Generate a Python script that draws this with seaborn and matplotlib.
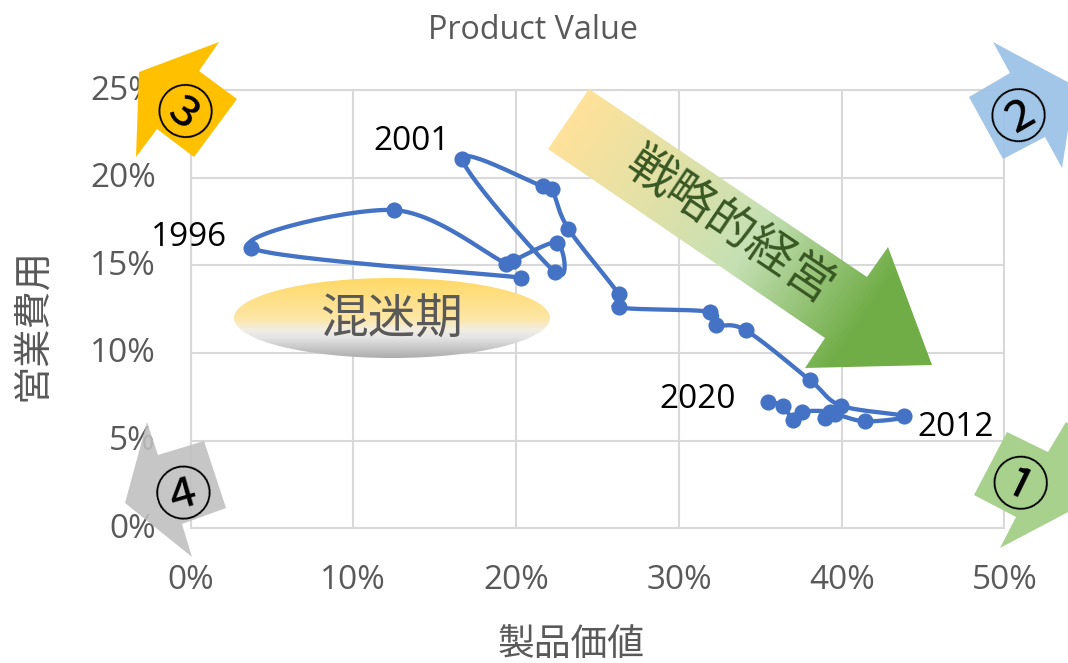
import numpy as np
import pandas as pd
import seaborn as sns
import matplotlib
matplotlib.use("Agg")
import matplotlib.pyplot as plt
from matplotlib.colors import LinearSegmentedColormap
from matplotlib.patches import Polygon, Ellipse
from matplotlib.transforms import ScaledTranslation

# Yearly path: product value (%) against operating cost (%)
product_value = [20.3, 3.7, 12.5, 19.4, 19.8, 22.5, 22.4, 16.7, 21.65, 22.2, 23.2, 26.3, 26.3, 31.9,
                 32.25, 34.1, 38.05, 39.95, 43.8, 41.45, 39.6, 39.0, 39.3, 37.55, 37.0, 36.4, 35.45]
operating_cost = [14.3, 16.0, 18.15, 15.1, 15.25, 16.3, 14.6, 21.05, 19.5, 19.35, 17.1, 13.35, 12.6, 12.35,
                  11.6, 11.3, 8.45, 7.0, 6.4, 6.1, 6.5, 6.3, 6.65, 6.65, 6.2, 7.0, 7.2]
x_ticks = [0, 10, 20, 30, 40, 50]
y_ticks = [0, 5, 10, 15, 20, 25]
year_labels = ["1996", "2001", "2020", "2012"]
TITLE = "Product Value"
X_LABEL = "製品価値"
Y_LABEL = "営業費用"
STRATEGY = "戦略的経営"
CONFUSED = "混迷期"

W, H = 1068, 663
GRAY = "#595959"
GRID = "#D9D9D9"
BLUE = "#4472C4"

sns.set_theme(style="white")
plt.rcParams["font.family"] = ["Open Sans", "Noto Sans CJK JP", "DejaVu Sans"]


def smooth_path(xs, ys, steps=30):
    """Catmull-Rom spline through the points, in plotting order."""
    p = np.column_stack([xs, ys])
    p = np.vstack([p[0], p, p[-1]])
    t = np.linspace(0, 1, steps)[:, None]
    out = []
    for i in range(1, len(p) - 2):
        c1 = p[i] + (p[i + 1] - p[i - 1]) / 6
        c2 = p[i + 1] - (p[i + 2] - p[i]) / 6
        out.append((1 - t) ** 3 * p[i] + 3 * (1 - t) ** 2 * t * c1
                   + 3 * (1 - t) * t ** 2 * c2 + t ** 3 * p[i + 1])
    return np.vstack(out)


fig = plt.figure(figsize=(W / 100, H / 100), dpi=100, facecolor="white")
ax = fig.add_axes([190.5 / W, 1 - 528.3 / H, 814 / W, 438.3 / H])

df = pd.DataFrame({"value": product_value, "cost": operating_cost})
curve = smooth_path(product_value, operating_cost)
curve_df = pd.DataFrame(curve, columns=["value", "cost"])
sns.lineplot(data=curve_df, x="value", y="cost", sort=False, estimator=None,
             color=BLUE, linewidth=3.1, ax=ax, zorder=3)
sns.scatterplot(data=df, x="value", y="cost", color=BLUE, s=135, linewidth=0, ax=ax, zorder=4)

ax.set_xlim(0, 50)
ax.set_ylim(0, 25)
ax.set_xticks(x_ticks, [f"{v}%" for v in x_ticks])
ax.set_yticks(y_ticks, [f"{v}%" for v in y_ticks])
ax.tick_params(axis="x", length=0, pad=25.5, labelsize=24, labelcolor=GRAY)
ax.tick_params(axis="y", length=0, pad=25, labelsize=24, labelcolor=GRAY)
lift = ScaledTranslation(0, 3 / 100, fig.dpi_scale_trans)
for tick_text in ax.get_yticklabels():
    tick_text.set_transform(tick_text.get_transform() + lift)
ax.grid(True, color=GRID, linewidth=1.5)
ax.set_axisbelow(True)
for side in ax.spines.values():
    side.set_color(GRID)
    side.set_linewidth(1.5)

ax.set_xlabel(X_LABEL, fontsize=26.5, color=GRAY)
ax.xaxis.set_label_coords(0.468, -0.268)
ax.xaxis.label.set_va("center")
ax.set_ylabel(Y_LABEL, fontsize=27.5, color=GRAY)
ax.yaxis.set_label_coords(-0.193, 0.466)
ax.yaxis.label.set_va("center")
ax.set_title(TITLE, fontsize=23.2, color=GRAY, x=0.421, y=1.135, va="center", pad=0)

# Annotation layer, addressed in figure pixels
top = fig.add_axes([0, 0, 1, 1], zorder=5)
top.patch.set_alpha(0)
top.axis("off")

yy, xx = np.mgrid[0:H, 0:W]

# Strategy arrow with a gradient along its shaft
arrow_pts = [(589, 89), (867, 277), (888, 247), (932, 365), (805, 368), (825, 338), (548, 149)]
grad = ((xx - 568) * 0.829 + (yy - 119) * 0.56) / 440
arrow_cmap = LinearSegmentedColormap.from_list(
    "strategy", [(0, "#FFE29A"), (0.5, "#C5E0B4"), (0.81, "#70AD47"), (1, "#70AD47")])
img = top.imshow(grad, cmap=arrow_cmap, vmin=0, vmax=1, extent=(0, W, H, 0), aspect="auto", zorder=2)
arrow_shape = Polygon(arrow_pts, closed=True, transform=top.transData, fc="none", ec="none")
top.add_patch(arrow_shape)
img.set_clip_path(arrow_shape)

# Ellipse marking the confused period
ell_grad = (yy - 278) / 80
ell_cmap = LinearSegmentedColormap.from_list(
    "confused", [(0, "#FFD966"), (0.5, "#FDE6A6"), (0.64, "#F1EEE2"), (0.74, "#E4E4E4"), (1, "#ABABAB")])
img2 = top.imshow(ell_grad, cmap=ell_cmap, vmin=0, vmax=1, extent=(0, W, H, 0), aspect="auto", zorder=2)
ell_shape = Ellipse((392, 318), 316, 80, transform=top.transData, fc="none", ec="none")
top.add_patch(ell_shape)
img2.set_clip_path(ell_shape)

top.set_xlim(0, W)
top.set_ylim(H, 0)

# Quadrant arrows
quadrants = [
    ("①", "#A9D18E", 1.0, -26, (1018, 488),
     [(1007, 432), (1048, 452), (1066, 422), (1072, 426), (1072, 510), (1000, 548), (1016, 517), (974, 495)]),
    ("②", "#9DC3E6", 0.95, 30, (1022, 119),
     [(993, 42), (1075, 86), (1062, 168), (1045, 137), (1003, 159), (969, 97), (1010, 73)]),
    ("③", "#FFC000", 1.0, -37, (181, 116),
     [(139, 72), (219, 42), (199, 71), (237, 99), (194, 157), (157, 129), (136, 157)]),
    ("④", "#BFBFBF", 0.88, 16, (185, 497),
     [(147, 422), (158, 455), (204, 441), (226, 508), (182, 524), (192, 557), (125, 503)]),
]
for mark, colour, alpha, angle, centre, pts in quadrants:
    top.add_patch(Polygon(pts, closed=True, fc=colour, ec="none", alpha=alpha, zorder=3))
    top.text(*centre, mark, fontsize=42, color="black", rotation=angle, rotation_mode="anchor",
             ha="center", va="center", family=["Noto Sans CJK JP"], zorder=4)

top.text(392, 320, CONFUSED, fontsize=34.3, color=GRAY, ha="center", va="center",
         family=["Noto Sans CJK JP"], zorder=4)
top.text(729, 226, STRATEGY, fontsize=34.5, color="#385723", rotation=-34, rotation_mode="anchor",
         ha="center", va="center", family=["Noto Sans CJK JP"], zorder=4)

for label, pos in zip(year_labels, [(189, 237), (412, 142), (698, 399), (956, 428)]):
    top.text(*pos, label, fontsize=24, color="black", ha="center", va="center", zorder=4)

fig.savefig("out.png", dpi=100)
